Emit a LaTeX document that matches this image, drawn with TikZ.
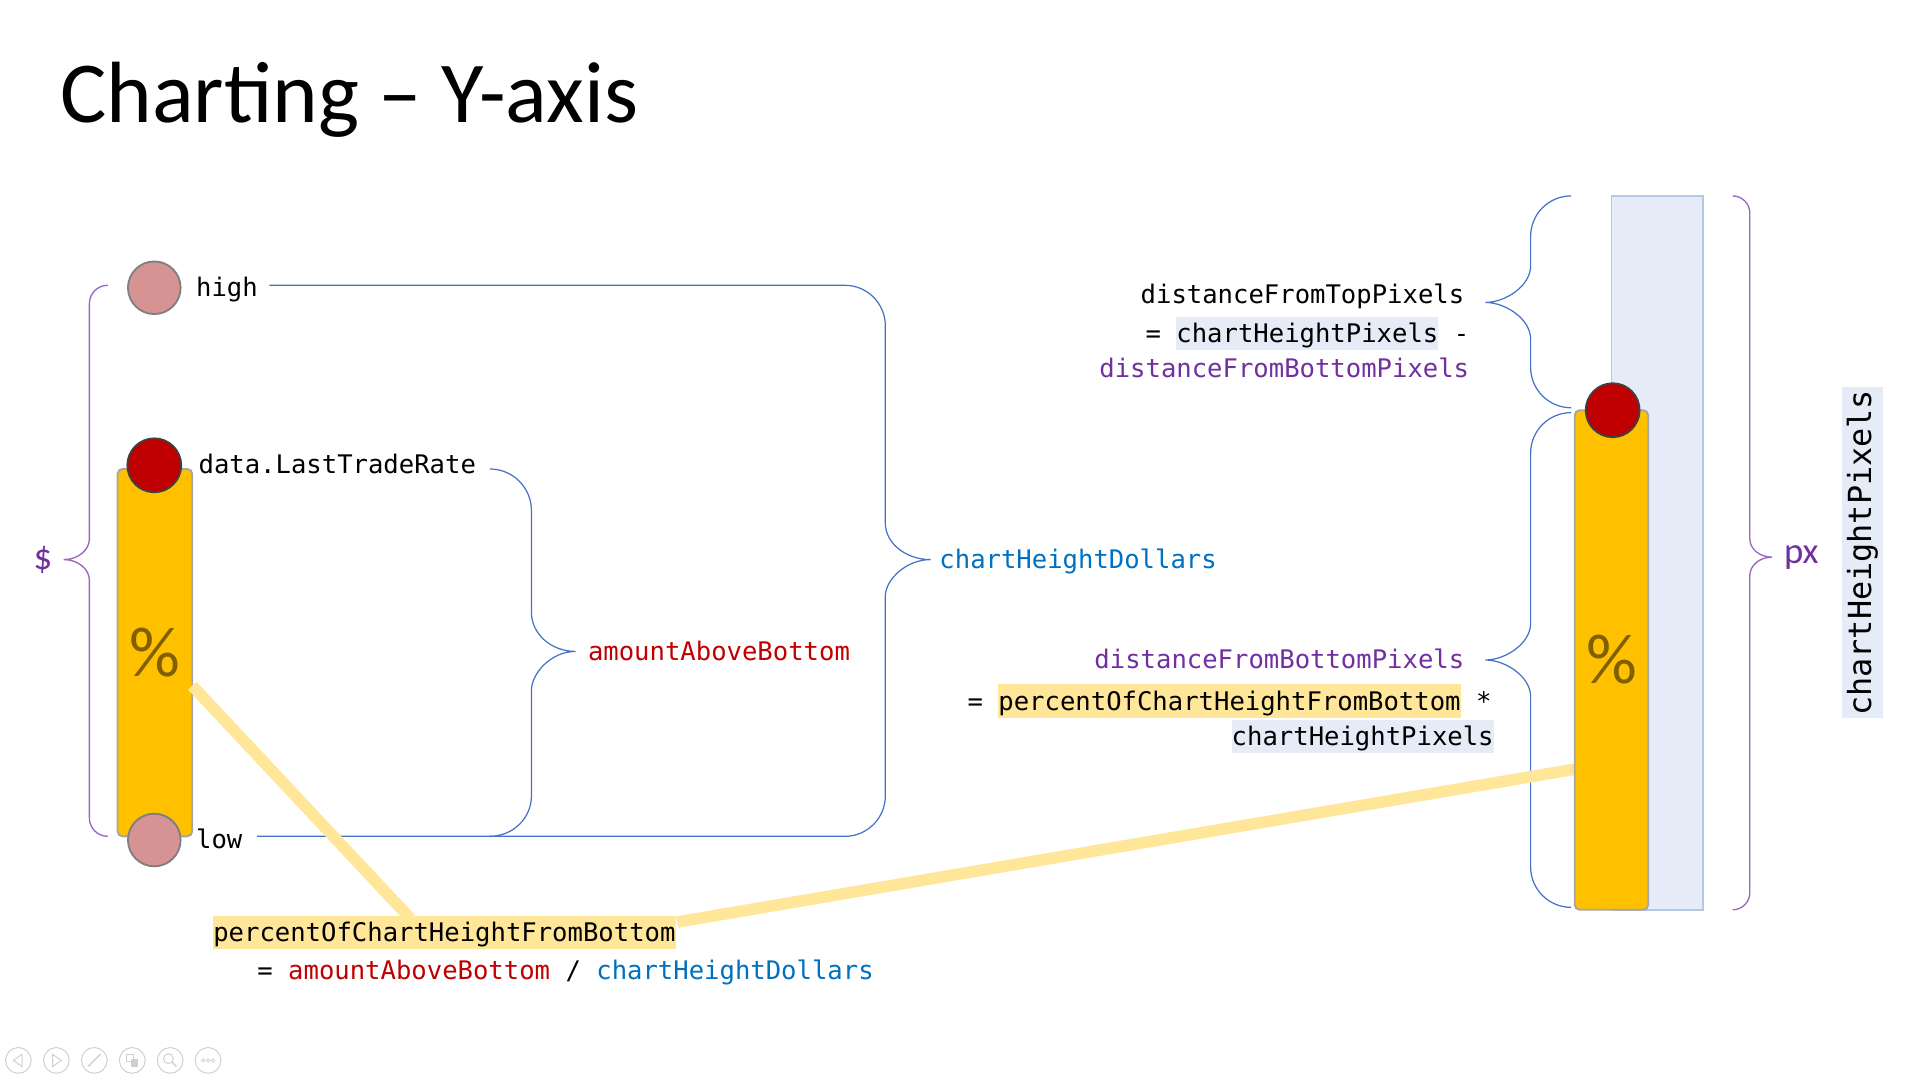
\documentclass[tikz,border=0pt]{standalone}
\usepackage{fontspec}
\setmainfont{Carlito}
\setmonofont{DejaVu Sans Mono}
\usetikzlibrary{calc}
\definecolor{barorange}{HTML}{FFC000}
\definecolor{bargray}{HTML}{A5A5A5}
\definecolor{dotpink}{HTML}{D59393}
\definecolor{dotgray}{HTML}{7F7F7F}
\definecolor{dotred}{HTML}{C00000}
\definecolor{dotdark}{HTML}{404040}
\definecolor{hlyellow}{HTML}{FFE699}
\definecolor{hlblue}{HTML}{E6ECF7}
\definecolor{colborder}{HTML}{B4C7E7}
\definecolor{braceblue}{HTML}{4472C4}
\definecolor{bracepurple}{HTML}{9966C4}
\definecolor{codered}{HTML}{C00000}
\definecolor{codeblue}{HTML}{0070C0}
\definecolor{codepurple}{HTML}{7030A0}
\definecolor{pctbrown}{HTML}{7F6000}
\definecolor{icongray}{HTML}{CFCFCF}
\newcommand\codefont{\ttfamily\fontsize{20.9}{25}\selectfont}
\newcommand\hlt[2]{{\setlength{\fboxsep}{0pt}\colorbox{#1}{\rule[-6pt]{0pt}{27pt}#2}}}
\tikzset{
  code/.style={font=\codefont, inner sep=0pt},
  pinkdot/.style={circle, minimum size=43pt, inner sep=0pt, fill=dotpink, draw=dotgray, line width=1.5pt},
  reddot/.style={circle, minimum size=44pt, inner sep=0pt, fill=dotred, draw=dotdark, line width=1.5pt},
  pctbar/.style={rectangle, rounded corners=4pt, fill=barorange, draw=bargray, line width=1.5pt, inner sep=0pt,
     text=pctbrown, font=\fontsize{58}{58}\selectfont},
  bbrace/.style={draw=braceblue, line width=1pt},
  pbrace/.style={draw=bracepurple, line width=1.1pt},
  yline/.style={draw=hlyellow, line width=9.5pt},
  ssicon/.style={circle, minimum size=21pt, inner sep=0pt, draw=icongray, line width=0.8pt},
}
\begin{document}
\begin{tikzpicture}[x=1pt, y=-1pt]
\useasboundingbox (0,0) rectangle (1568,882);

% title
\node[anchor=base west, inner sep=0pt, font=\fontsize{71}{71}\selectfont] (title) at (49,100) {Charting – Y-axis};

% right column (chart height pixels)
\node[rectangle, fill=hlblue, draw=colborder, line width=1.5pt, minimum width=75pt, minimum height=583pt, inner sep=0pt] (chartcol) at (1353.5,451.5) {};

% braces
\draw[pbrace] (88,233) .. controls (79.7,233) and (73,239.7) .. (73,248) -- (73,440)
   .. controls (73,449.4) and (63.6,457) .. (52,457)
   .. controls (63.6,457) and (73,464.6) .. (73,474) -- (73,668)
   .. controls (73,676.3) and (79.7,683) .. (88,683);
\draw[bbrace] (220,233) -- (690,233) .. controls (708.2,233) and (723,247.8) .. (723,266) -- (723,427)
   .. controls (723,443.6) and (739.6,457) .. (760,457)
   .. controls (739.6,457) and (723,473.6) .. (723,487) -- (723,650)
   .. controls (723,668.2) and (708.2,683) .. (690,683) -- (210,683);
\draw[bbrace] (400,383) .. controls (418.8,383) and (434,398.2) .. (434,417) -- (434,500)
   .. controls (434,517.7) and (450.1,532) .. (470,532)
   .. controls (450.1,532) and (434,549.7) .. (434,564) -- (434,650)
   .. controls (434,668.2) and (418.8,683) .. (400,683);
\draw[bbrace] (1283,160) .. controls (1264.8,160) and (1250,174.8) .. (1250,193) -- (1250,217)
   .. controls (1250,233.6) and (1229.4,247) .. (1213,247)
   .. controls (1229.4,247) and (1250,260.4) .. (1250,277) -- (1250,300)
   .. controls (1250,318.2) and (1264.8,333) .. (1283,333);
\draw[bbrace] (1283,337) .. controls (1264.8,337) and (1250,351.8) .. (1250,370) -- (1250,509)
   .. controls (1250,525.6) and (1229.4,539) .. (1213,539)
   .. controls (1229.4,539) and (1250,552.4) .. (1250,569) -- (1250,708)
   .. controls (1250,726.2) and (1264.8,741) .. (1283,741);
\draw[pbrace] (1415,160) .. controls (1422.7,160) and (1429,166.3) .. (1429,174) -- (1429,440)
   .. controls (1429,448.3) and (1437.1,455) .. (1447,455)
   .. controls (1437.1,455) and (1429,461.7) .. (1429,470) -- (1429,729)
   .. controls (1429,736.7) and (1422.7,743) .. (1415,743);

% bars
\node[pctbar, minimum width=61pt, minimum height=300pt] (lbar) at (126.5,533) {\%};
% connector coordinates
\coordinate (ya) at (157,560);
\coordinate (yb) at (335,750);
\coordinate (yc) at (553,753);
\coordinate (yd) at (1287,628);
\draw[yline] (ya) -- (yb);
\draw[yline] (yc) -- (yd);
\node[pctbar, minimum width=60pt, minimum height=408pt] (rbar) at (1316,539) {\%};
\node[reddot] (rdot) at (1317,335) {};

% left dots
\node[pinkdot] (highdot) at (126,235) {};
\node[reddot] (datadot) at (126,380) {};
\node[pinkdot] (lowdot) at (126,686) {};

% left labels
\node[code, anchor=base west] (high) at (160,242) {high};
\node[code, anchor=base west] (data) at (162,387) {data.LastTradeRate};
\node[code, anchor=base west] (low) at (160,693) {low};
\node[code, anchor=base west, text=codered] (amount) at (480,539) {amountAboveBottom};
\node[code, anchor=base west, text=codeblue] (chd) at (767,464) {chartHeightDollars};
\node[text=codepurple, font=\fontsize{30}{30}\selectfont, inner sep=0pt] (dollar) at (35,457) {\$};
\node[text=codepurple, font=\fontsize{30}{30}\selectfont, inner sep=0pt] (px) at (1471,455) {px};

% bottom formula
\node[code, anchor=base west] (pct) at (174,769) {\hlt{hlyellow}{percentOfChartHeightFromBottom}};
\node[code, anchor=base west] (pcteq) at (210,800) {= \textcolor{codered}{amountAboveBottom} / \textcolor{codeblue}{chartHeightDollars}};

% right formulas
\node[code, anchor=base east] (dft) at (1196,248) {distanceFromTopPixels};
\node[code, anchor=base east] (dfteq) at (1200,280) {= \hlt{hlblue}{chartHeightPixels} -};
\node[code, anchor=base east, text=codepurple] (dfba) at (1200,308) {distanceFromBottomPixels};
\node[code, anchor=base east, text=codepurple] (dfbb) at (1196,546) {distanceFromBottomPixels};
\node[code, anchor=base west] (dfbeq) at (790,580) {= \hlt{hlyellow}{percentOfChartHeightFromBottom} *};
\node[code, anchor=base east] (dfbchp) at (1220,609) {\hlt{hlblue}{chartHeightPixels}};

% rotated label
\node[rotate=90, fill=hlblue, inner xsep=2pt, inner ysep=3.5pt, text height=20pt, text depth=6pt,
      font=\ttfamily\fontsize{26}{26}\selectfont] (chp) at (1521,451.5) {chartHeightPixels};

% slideshow controls
\foreach \i/\x in {1/15,2/46,3/77,4/108,5/139,6/170} { \node[ssicon] (ic\i) at (\x,866) {}; }
\draw[icongray, line width=0.8pt] ($(ic1)+(3,-5)$) -- ($(ic1)+(-4,0)$) -- ($(ic1)+(3,5)$) -- cycle;
\draw[icongray, line width=0.8pt] ($(ic2)+(-3,-5)$) -- ($(ic2)+(4,0)$) -- ($(ic2)+(-3,5)$) -- cycle;
\draw[icongray, line width=1.2pt] ($(ic3)+(-5,5)$) -- ($(ic3)+(5,-5)$);
\draw[icongray, line width=0.8pt] ($(ic4)+(-5,-5)$) rectangle ($(ic4)+(1,1)$);
\fill[icongray] ($(ic4)+(-1,-1)$) rectangle ($(ic4)+(5,5)$);
\draw[icongray, line width=0.8pt] ($(ic5)+(-1.5,-1.5)$) circle (4pt);
\draw[icongray, line width=1.2pt] ($(ic5)+(1.5,1.5)$) -- ($(ic5)+(5,5)$);
\foreach \d in {-4,0,4} { \draw[icongray, line width=0.6pt] ($(ic6)+(\d,0)$) circle (1.4pt); }
\end{tikzpicture}
\end{document}
